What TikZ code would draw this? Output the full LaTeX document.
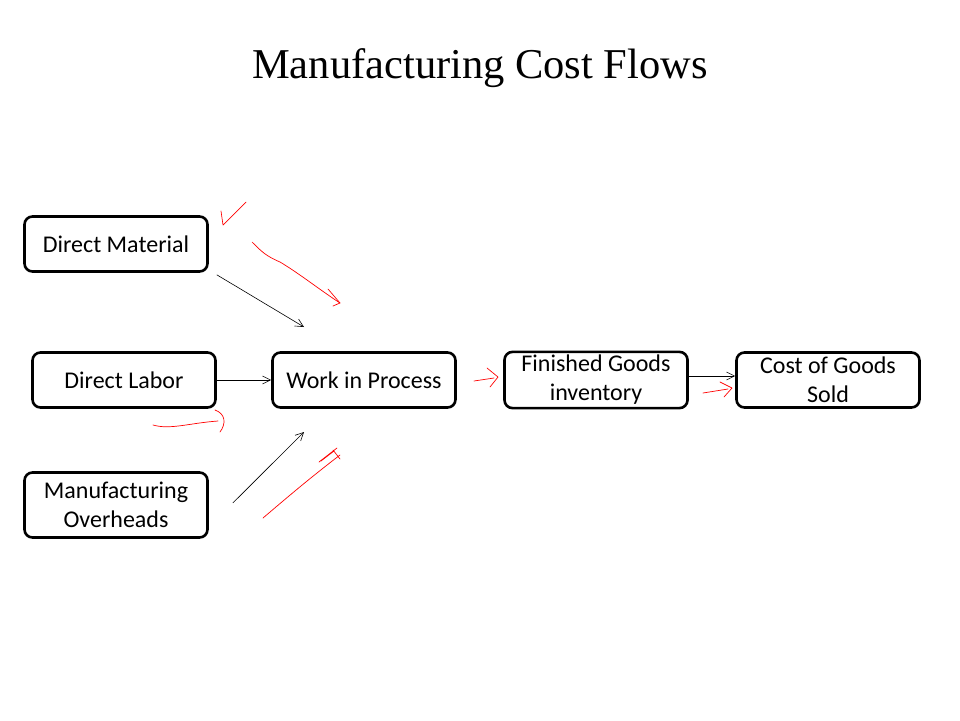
\documentclass[tikz,border=0pt]{standalone}
\usepackage{fontspec}
\setmainfont{Liberation Serif}
\newfontfamily\boxfont{Carlito}
\usetikzlibrary{positioning, arrows.meta}

\begin{document}
\begin{tikzpicture}[x=1pt, y=-1pt,
    costbox/.style={draw, line width=2.6pt, rounded corners=8pt, minimum width=183pt,
        minimum height=55pt, align=center, font=\boxfont\fontsize{24}{29}\selectfont},
    flow/.style={->, >={Straight Barb[length=8pt, width=8pt]}, line width=0.6pt},
    penmark/.style={red, line width=0.7pt, line cap=round, line join=round}]
    \useasboundingbox (0,0) rectangle (960,720);

    % title
    \node (title) at (480,68) {\fontsize{42.5}{50}\selectfont Manufacturing Cost Flows};

    % the boxes
    \node[costbox] (dm)  at (116,244) {Direct Material};
    \node[costbox] (dl)  at (124,380) {Direct Labor};
    \node[costbox] (wip) at (364,380) {Work in Process};
    \node[costbox] (fg)  at (596,380) {Finished Goods\\inventory};
    \node[costbox] (cgs) at (828,380) {Cost of Goods\\Sold};
    \node[costbox, minimum height=65pt] (moh) at (116,505) {Manufacturing\\Overheads};

    % the flows
    \coordinate (dmend)  at (304,327);
    \coordinate (mohend) at (304,432);
    \draw[flow] (dm.south east) ++(8,2) -- (dmend);
    \draw[flow] (dl.east) -- (wip.west);
    \draw[flow] (moh.east) ++(24,-2) -- (mohend);
    \draw[flow] (fg.east) ++(0,-4) -- ([yshift=4pt]cgs.west);

    % red pen marks
    \draw[penmark] (221,211) -- (223,225) -- (246,202);
    \draw[penmark] (252,242) .. controls (262,252) and (266,256) .. (280,262)
        .. controls (300,274) and (320,290) .. (340,303);
    \draw[penmark] (328,289) -- (340,303) -- (333,306);
    \draw[penmark] (153,425) .. controls (170,430) and (190,423) .. (218,421);
    \draw[penmark] (215,410) .. controls (226,414) and (226,424) .. (220,432);
    \draw[penmark] (263,518) .. controls (290,495) and (310,478) .. (340,455);
    \draw[penmark] (319,462) -- (337,448) (321,461) -- (334,451) (333,450) -- (340,459);
    \draw[penmark] (474,381) -- (494,378);
    \draw[penmark] (487,368) -- (498,377) -- (490,387);
    \draw[penmark] (703,393) -- (728,389);
    \draw[penmark] (720,382) -- (732,388) -- (724,397);
\end{tikzpicture}
\end{document}
